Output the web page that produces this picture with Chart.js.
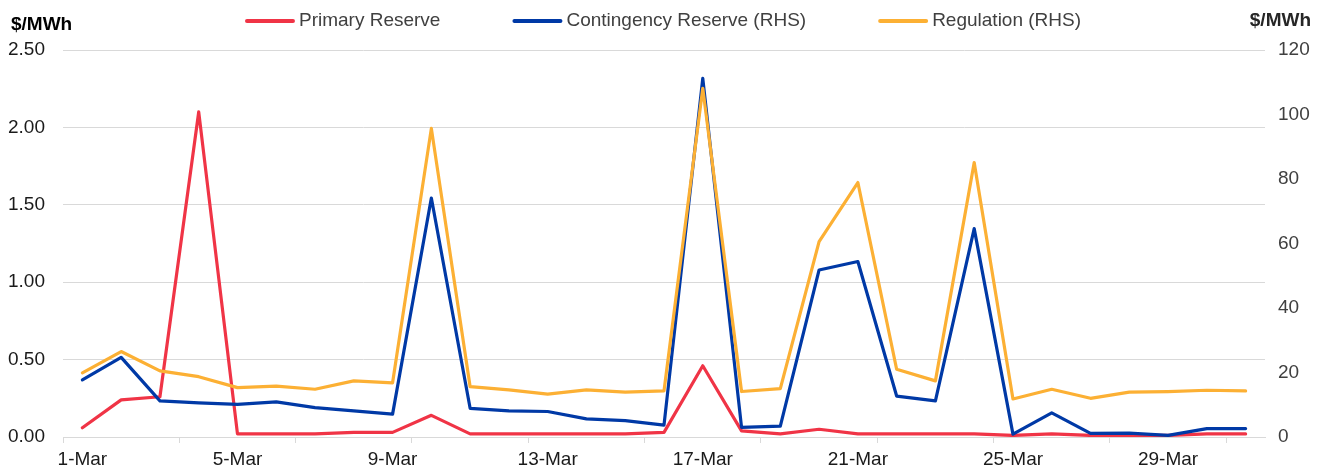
<!DOCTYPE html>
<html>
<head>
<meta charset="utf-8">
<script src="https://cdn.jsdelivr.net/npm/chart.js@4"></script>
<style>
  html, body { margin: 0; padding: 0; background: #fff; }
  #wrap { width: 1327px; height: 473px; }
</style>
</head>
<body>
<div id="wrap"><canvas id="reserves"></canvas></div>
<script>
  // Daily prices, March
  const days = ["1-Mar", "2-Mar", "3-Mar", "4-Mar", "5-Mar", "6-Mar", "7-Mar", "8-Mar", "9-Mar", "10-Mar",
    "11-Mar", "12-Mar", "13-Mar", "14-Mar", "15-Mar", "16-Mar", "17-Mar", "18-Mar", "19-Mar", "20-Mar",
    "21-Mar", "22-Mar", "23-Mar", "24-Mar", "25-Mar", "26-Mar", "27-Mar", "28-Mar", "29-Mar", "30-Mar", "31-Mar"];
  const primaryReserve = [0.06, 0.24, 0.26, 2.10, 0.02, 0.02, 0.02, 0.03, 0.03, 0.14,
    0.02, 0.02, 0.02, 0.02, 0.02, 0.03, 0.46, 0.04, 0.02, 0.05,
    0.02, 0.02, 0.02, 0.02, 0.01, 0.02, 0.01, 0.01, 0.01, 0.02, 0.02];
  const contingencyReserve = [17.7, 24.7, 11.2, 10.6, 10.1, 10.9, 9.1, 8.1, 7.1, 74.1,
    8.9, 8.1, 7.9, 5.6, 5.1, 3.7, 111.2, 3.0, 3.4, 51.8,
    54.4, 12.7, 11.2, 64.6, 0.9, 7.5, 1.1, 1.2, 0.5, 2.6, 2.6];
  const regulation = [19.9, 26.5, 20.5, 18.7, 15.3, 15.8, 14.8, 17.4, 16.8, 95.7,
    15.6, 14.6, 13.3, 14.6, 13.9, 14.3, 108.1, 14.1, 15.0, 60.6,
    78.9, 21.0, 17.4, 85.1, 11.8, 14.8, 12.0, 13.9, 14.1, 14.5, 14.3];
  const leftTicks = { min: 0, max: 2.5, step: 0.5 };
  const rightTicks = { min: 0, max: 120, step: 20 };

  const FONT = "'Liberation Sans', Arial, sans-serif";

  // legend + unit labels drawn by hand so spacing matches
  const extras = {
    id: 'extras',
    afterDraw(chart) {
      const c = chart.ctx;
      c.save();
      c.font = "19px " + FONT;
      c.textBaseline = 'middle';
      const lineW = 48, gapText = 5, gapItem = 73;
      const items = chart.data.datasets.map(function(ds) {
        return { label: ds.label, color: ds.borderColor, w: lineW + gapText + c.measureText(ds.label).width };
      });
      let total = items.reduce(function(s, it) { return s + it.w; }, 0) + gapItem * (items.length - 1);
      let x = chart.width / 2 - total / 2;
      const y = 21;
      items.forEach(function(it) {
        c.strokeStyle = it.color;
        c.lineWidth = 4;
        c.lineCap = 'round';
        c.beginPath();
        c.moveTo(x + 1, y);
        c.lineTo(x + lineW - 1, y);
        c.stroke();
        c.fillStyle = '#404040';
        c.textAlign = 'left';
        c.fillText(it.label, x + lineW + gapText, y);
        x += it.w + gapItem;
      });

      c.font = "bold 19px " + FONT;
      c.fillStyle = '#000';
      c.textAlign = 'left';
      c.fillText('$/MWh', 11, 25);
      c.fillStyle = '#262626';
      c.textAlign = 'right';
      c.fillText('$/MWh', 1311, 21);
      c.restore();
    }
  };

  const ctx = document.getElementById('reserves').getContext('2d');
  new Chart(ctx, {
    type: 'line',
    data: {
      labels: days,
      datasets: [
        {
          label: 'Primary Reserve',
          data: primaryReserve,
          yAxisID: 'y',
          borderColor: '#F03446',
          backgroundColor: '#F03446',
          borderWidth: 3.2,
          borderJoinStyle: 'round',
          borderCapStyle: 'round',
          pointRadius: 0,
          order: 3
        },
        {
          label: 'Contingency Reserve (RHS)',
          data: contingencyReserve,
          yAxisID: 'y1',
          borderColor: '#0039A6',
          backgroundColor: '#0039A6',
          borderWidth: 3.2,
          borderJoinStyle: 'round',
          borderCapStyle: 'round',
          pointRadius: 0,
          order: 2
        },
        {
          label: 'Regulation (RHS)',
          data: regulation,
          yAxisID: 'y1',
          borderColor: '#FCB034',
          backgroundColor: '#FCB034',
          borderWidth: 3.2,
          borderJoinStyle: 'round',
          borderCapStyle: 'round',
          pointRadius: 0,
          order: 1
        }
      ]
    },
    options: {
      responsive: true,
      maintainAspectRatio: false,
      animation: false,
      layout: {
        padding: { top: 50, left: 0, right: 0, bottom: 0 }
      },
      scales: {
        x: {
          offset: true,
          afterFit: function(scale) { scale.height = 36; },
          grid: {
            offset: true,
            drawOnChartArea: false,
            drawTicks: true,
            tickLength: 6,
            color: function(c) { return c.index % 3 === 0 ? '#d9d9d9' : 'rgba(0,0,0,0)'; }
          },
          border: { color: '#d9d9d9' },
          ticks: {
            autoSkip: false,
            maxRotation: 0,
            padding: 5,
            color: '#1a1a1a',
            font: { family: FONT, size: 19 },
            callback: function(value, index) {
              return index % 4 === 0 ? days[index] : '';
            }
          }
        },
        y: {
          position: 'left',
          min: leftTicks.min,
          max: leftTicks.max,
          afterFit: function(scale) { scale.width = 63; },
          grid: { color: '#d9d9d9', drawTicks: false },
          border: { display: false },
          ticks: {
            stepSize: leftTicks.step,
            padding: 18,
            color: '#1a1a1a',
            font: { family: FONT, size: 19 },
            callback: function(value) { return value.toFixed(2); }
          }
        },
        y1: {
          position: 'right',
          min: rightTicks.min,
          max: rightTicks.max,
          afterFit: function(scale) { scale.width = 62; },
          grid: { drawOnChartArea: false, drawTicks: false },
          border: { display: false },
          ticks: {
            stepSize: rightTicks.step,
            padding: 13,
            color: '#404040',
            font: { family: FONT, size: 19 }
          }
        }
      },
      plugins: {
        legend: { display: false },
        tooltip: { enabled: false }
      }
    },
    plugins: [extras]
  });
</script>
</body>
</html>
